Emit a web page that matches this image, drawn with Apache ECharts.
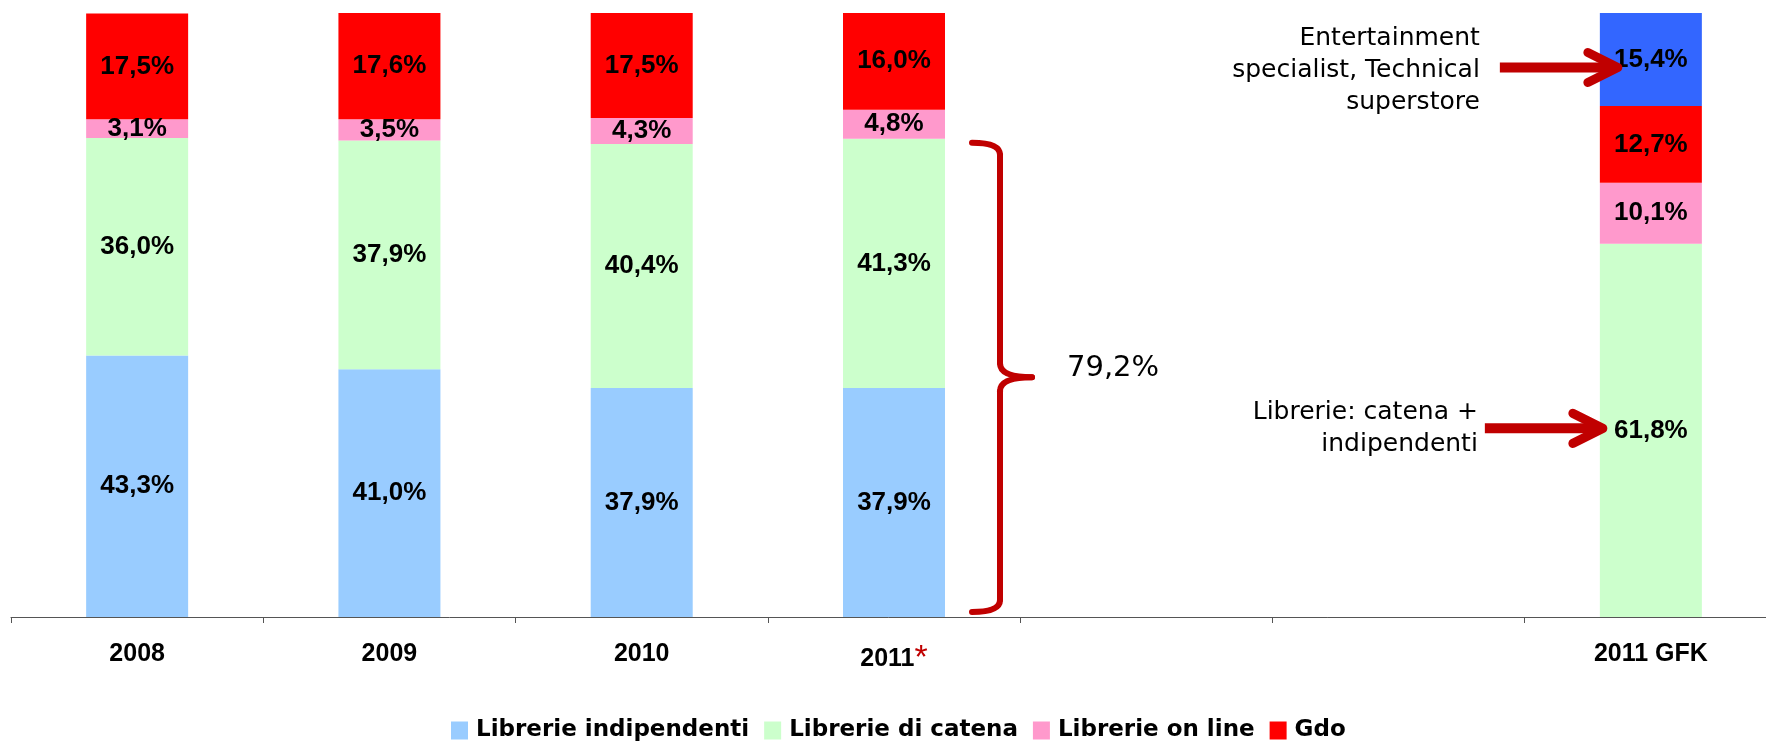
<!DOCTYPE html>
<html>
<head>
<meta charset="utf-8">
<script src="https://cdn.jsdelivr.net/npm/echarts@6/dist/echarts.min.js"></script>
<style>
html,body{margin:0;padding:0;background:#fff;}
#chart{width:1766px;height:745px;}
</style>
</head>
<body>
<div id="chart"></div>
<script>
// ---- data ----
const categories = ['2008', '2009', '2010', '2011', '', '', '2011 GFK'];
const starredCategory = '2011';
const librerieIndipendenti = [43.3, 41.0, 37.9, 37.9, null, null, null];
const librerieCatena = [36.0, 37.9, 40.4, 41.3, null, null, 61.8];
const librerieOnLine = [3.1, 3.5, 4.3, 4.8, null, null, 10.1];
const gdo = [17.5, 17.6, 17.5, 16.0, null, null, 12.7];
const entertainment = [null, null, null, null, null, null, 15.4];
const seriesNames = ['Librerie indipendenti', 'Librerie di catena', 'Librerie on line', 'Gdo', 'Entertainment specialist, Technical superstore'];
const noteEntertainment = 'Entertainment\nspecialist, Technical\nsuperstore';
const noteLibrerie = 'Librerie: catena +\nindipendenti';

// ---- styles ----
const colors = ['#99CCFF', '#CCFFCC', '#FF99CC', '#FF0000', '#3366FF'];
const accent = '#C00000';
const fmt = v => v.toFixed(1).replace('.', ',') + '%';

const chart = echarts.init(document.getElementById('chart'), null, {renderer: 'canvas'});

function mkSeries(name, data, color) {
  return {
    name: name,
    type: 'bar',
    stack: 'total',
    data: data,
    barWidth: 102,
    itemStyle: {color: color},
    label: {
      show: true,
      position: 'inside',
      color: '#000',
      fontFamily: 'Liberation Sans, Arial, sans-serif',
      fontWeight: 'bold',
      fontSize: 26,
      formatter: p => (p.value == null ? '' : fmt(p.value))
    },
    emphasis: {disabled: true}
  };
}

const option = {
  animation: false,
  backgroundColor: '#fff',
  grid: {left: 11, width: 1766, top: 13, bottom: 128, containLabel: false, outerBoundsMode: 'none'},
  legend: {
    data: seriesNames.slice(0, 4),
    left: 446,
    top: 714,
    itemWidth: 17,
    itemHeight: 18,
    itemGap: 15,
    icon: 'rect',
    textStyle: {
      fontFamily: 'DejaVu Sans, sans-serif',
      fontWeight: 'bold',
      fontSize: 23,
      color: '#000',
      padding: [0, 0, 0, 3]
    }
  },
  xAxis: {
    type: 'category',
    data: categories,
    axisLine: {lineStyle: {color: '#555', width: 1}},
    axisTick: {show: true, length: 6, lineStyle: {color: '#555'}},
    axisLabel: {
      margin: 25,
      interval: 0,
      formatter: v => (v === starredCategory ? '{b|' + v + '}{s|*}' : '{b|' + v + '}'),
      rich: {
        b: {fontFamily: 'Liberation Sans, Arial, sans-serif', fontWeight: 'bold', fontSize: 25, color: '#000'},
        s: {fontFamily: 'Liberation Sans, Arial, sans-serif', fontWeight: 'normal', fontSize: 34, color: accent, verticalAlign: 'top'}
      }
    }
  },
  yAxis: {type: 'value', min: 0, max: 100, show: false},
  series: [
    mkSeries(seriesNames[0], librerieIndipendenti, colors[0]),
    mkSeries(seriesNames[1], librerieCatena, colors[1]),
    mkSeries(seriesNames[2], librerieOnLine, colors[2]),
    mkSeries(seriesNames[3], gdo, colors[3]),
    mkSeries(seriesNames[4], entertainment, colors[4])
  ]
};
chart.setOption(option);

// ---- annotations anchored on the data ----
const px = (i, v) => chart.convertToPixel({xAxisIndex: 0, yAxisIndex: 0}, [i, v]);
const iStar = categories.indexOf(starredCategory);
const iGfk = categories.indexOf('2011 GFK');
const braceTopVal = librerieIndipendenti[iStar] + librerieCatena[iStar];
const pTop = px(iStar, braceTopVal);
const pBot = px(iStar, 0);
const cx3 = pTop[0];
const yt = pTop[1] + 4, yb = pBot[1] - 5, ym = (yt + yb) / 2;
const x0 = cx3 + 78, x1 = cx3 + 106, x2 = cx3 + 138;

const braceStyle = {stroke: accent, lineWidth: 6, fill: null, lineCap: 'round'};
function bez(ax, ay, cx, cy, bx, by) {
  return {type: 'bezierCurve', shape: {x1: ax, y1: ay, cpx1: cx, cpy1: cy, x2: bx, y2: by}, style: braceStyle, z: 100};
}
function seg(ax, ay, bx, by) {
  return {type: 'line', shape: {x1: ax, y1: ay, x2: bx, y2: by}, style: braceStyle, z: 100};
}
const brace = [
  bez(x0, yt, x1, yt, x1, yt + 12),
  seg(x1, yt + 12, x1, ym - 14),
  bez(x1, ym - 14, x1, ym, x2, ym),
  bez(x2, ym, x1, ym, x1, ym + 14),
  seg(x1, ym + 14, x1, yb - 12),
  bez(x1, yb - 12, x1, yb, x0, yb)
];

const cxG = px(iGfk, 0)[0];
const gTotBelowEnt = librerieCatena[iGfk] + librerieOnLine[iGfk] + gdo[iGfk];
const yArrow1 = px(iGfk, gTotBelowEnt + entertainment[iGfk] / 2)[1] + 8;
const yArrow2 = px(iGfk, librerieCatena[iGfk] / 2)[1] - 2;

function arrow(tipX, startX, y) {
  return [
    {type: 'line', shape: {x1: startX, y1: y, x2: tipX - 6, y2: y},
     style: {stroke: accent, lineWidth: 10, lineCap: 'butt'}, z: 100},
    {type: 'polyline', shape: {points: [[tipX - 30, y - 15], [tipX, y], [tipX - 30, y + 15]]},
     style: {stroke: accent, lineWidth: 9, lineCap: 'round', lineJoin: 'round', fill: null}, z: 100}
  ];
}

const noteFont = '25px "DejaVu Sans", sans-serif';
chart.setOption({
  graphic: [
    ...brace,
    {type: 'text', x: cx3 + 173, y: ym - 9,
     style: {text: fmt(braceTopVal), font: '29px "DejaVu Sans", sans-serif', fill: '#000',
             textAlign: 'left', textVerticalAlign: 'middle'}, z: 100},
    ...arrow(cxG - 33, cxG - 151, yArrow1),
    ...arrow(cxG - 48, cxG - 166, yArrow2),
    {type: 'text', x: cxG - 171, y: yArrow1 + 3,
     style: {text: noteEntertainment, font: noteFont, lineHeight: 32, fill: '#000',
             textAlign: 'right', textVerticalAlign: 'middle'}, z: 100},
    {type: 'text', x: cxG - 173, y: yArrow2,
     style: {text: noteLibrerie, font: noteFont, lineHeight: 32, fill: '#000',
             textAlign: 'right', textVerticalAlign: 'middle'}, z: 100}
  ]
});
</script>
</body>
</html>
